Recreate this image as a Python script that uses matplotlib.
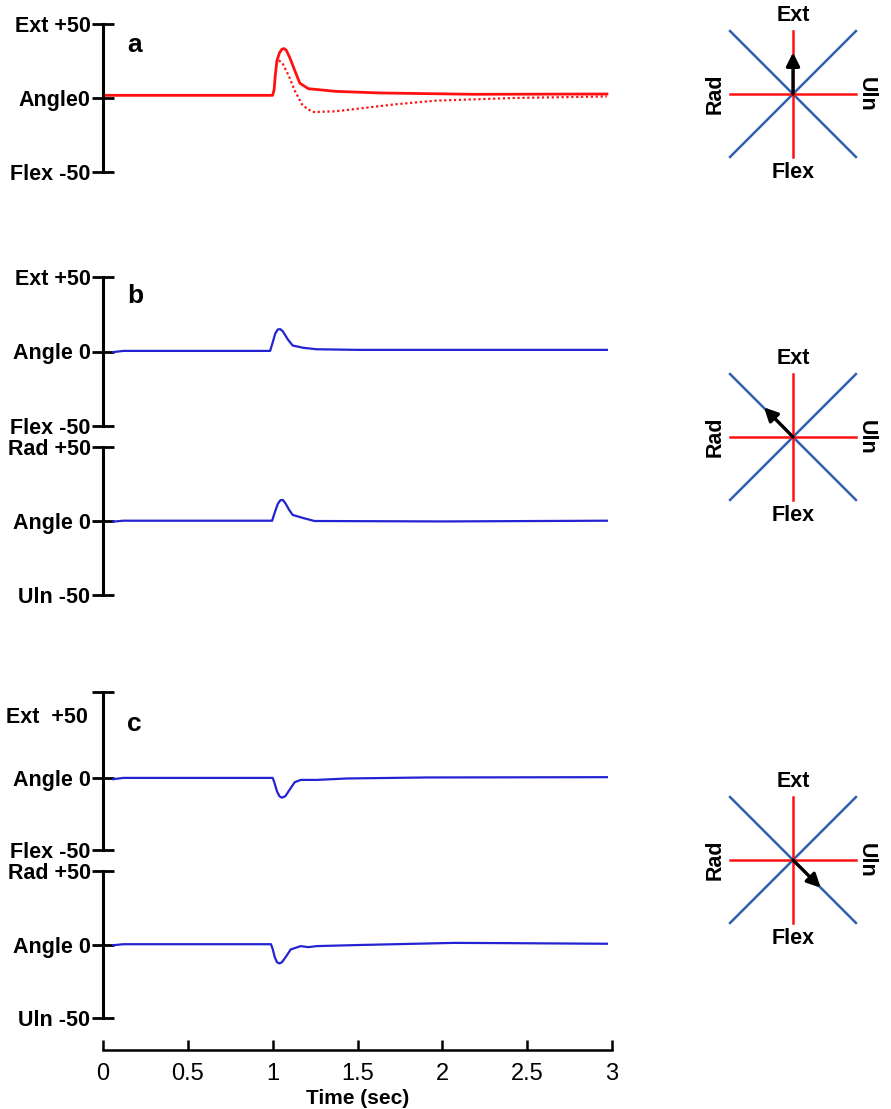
import matplotlib.pyplot as plt
import numpy as np

plt.rcParams['font.family'] = ['Liberation Sans', 'DejaVu Sans']

# Data: time (s) and wrist angle (deg)
t_a = [0.01, 1.0, 1.009, 1.015, 1.025, 1.04, 1.055, 1.067, 1.08, 1.10, 1.13, 1.16, 1.21, 1.37, 1.63, 2.19, 2.97]
ang_a = [1.8, 1.8, 6, 15, 25, 30.5, 33, 33.4, 32.3, 27.5, 18.7, 10, 6.3, 4.5, 3.4, 2.5, 2.7]
t_a_dot = [1.037, 1.06, 1.095, 1.13, 1.176, 1.235, 1.37, 1.72, 1.96, 2.42, 2.97]
ang_a_dot = [25.5, 23, 15, 5, -5, -9.5, -9, -4.3, -1.8, 0, 1.1]

t_b1 = [0.06, 0.12, 0.985, 1.0, 1.015, 1.03, 1.045, 1.06, 1.09, 1.118, 1.18, 1.258, 1.5, 2.0, 2.97]
ang_b1 = [-0.4, 0.4, 0.4, 6, 12, 14.8, 15.0, 13.5, 8, 4, 2.5, 1.5, 1.1, 1.1, 1.1]
t_b2 = [0.06, 0.12, 0.997, 1.01, 1.03, 1.045, 1.06, 1.075, 1.10, 1.118, 1.18, 1.246, 2.0, 2.97]
ang_b2 = [-0.4, 0.2, 0.2, 5, 11.5, 14, 14.2, 12, 7, 4.1, 2, 0, -0.3, 0.2]

t_c1 = [0.06, 0.12, 1.0, 1.01, 1.025, 1.04, 1.055, 1.075, 1.10, 1.13, 1.165, 1.258, 1.44, 1.91, 2.97]
ang_c1 = [-0.7, 0.2, 0.2, -3, -9, -12.6, -13.6, -12.5, -8, -2.8, -1.2, -1.2, -0.2, 0.5, 0.7]
t_c2 = [0.06, 0.12, 0.99, 1.0, 1.012, 1.025, 1.04, 1.055, 1.08, 1.106, 1.165, 1.21, 1.258, 1.49, 2.07, 2.42, 2.97]
ang_c2 = [-0.5, 0.2, 0.2, -3, -8.5, -12, -12.9, -12, -8, -3.4, -1.1, -1.8, -1.1, -0.4, 1.1, 0.9, 0.5]

ext_flex_labels = ['Flex -50', 'Angle 0', 'Ext +50']
rad_uln_labels = ['Uln -50', 'Angle 0', 'Rad +50']
time_ticks = [0, 0.5, 1, 1.5, 2, 2.5, 3]
time_labels = ['0', '0.5', '1', '1.5', '2', '2.5', '3']

# arrow direction in each wrist diagram
arrow_dx = [0.0, -0.46, 0.44]
arrow_dy = [0.66, 0.47, -0.44]

W, H = 891, 1109
fig = plt.figure(figsize=(W / 100, H / 100), dpi=100)

X0, X1 = 103, 612
RED = '#ff1111'
TRACE_BLUE = '#2323d2'
DIAG_BLUE = '#2f5fae'


def trace_axes(top_px, bottom_px, ylim=(-50, 50)):
    ax = fig.add_axes([X0 / W, 1 - bottom_px / H, (X1 - X0) / W, (bottom_px - top_px) / H])
    ax.set_xlim(0, 3)
    ax.set_ylim(*ylim)
    for s in ['top', 'right', 'bottom']:
        ax.spines[s].set_visible(False)
    ax.spines['left'].set_linewidth(2.2)
    ax.set_xticks([])
    ax.tick_params(axis='y', direction='inout', length=16, width=2, pad=1)
    ax.patch.set_alpha(0)
    return ax


def style_labels(ax):
    for lab in ax.get_yticklabels():
        lab.set_fontweight('bold')
        lab.set_fontsize(15.5)


# panel a
ax = trace_axes(24, 172)
ax.set_yticks([-50, 0, 50], ['Flex -50', 'Angle0', 'Ext +50'])
style_labels(ax)
ax.plot(t_a, ang_a, color=RED, lw=2.0)
ax.plot(t_a_dot, ang_a_dot, color=RED, lw=1.6, ls=(0, (1, 1.2)))
ax.text(0.048, 0.86, 'a', transform=ax.transAxes, fontsize=19, fontweight='bold', va='center')

# panel b
ax = trace_axes(277, 426)
ax.set_yticks([-50, 0, 50], ext_flex_labels)
style_labels(ax)
ax.plot(t_b1, ang_b1, color=TRACE_BLUE, lw=1.6)
ax.text(0.048, 0.87, 'b', transform=ax.transAxes, fontsize=19, fontweight='bold', va='center')

ax = trace_axes(447, 595)
ax.set_yticks([-50, 0, 50], rad_uln_labels)
style_labels(ax)
ax.plot(t_b2, ang_b2, color=TRACE_BLUE, lw=1.6)

# panel c
ax = trace_axes(692, 850, ylim=(-50, 60))
ax.set_yticks([-50, 0, 60], ['Flex -50', 'Angle 0', ''])
style_labels(ax)
ax.text(-0.03, 42, 'Ext  +50', transform=ax.get_yaxis_transform(), ha='right', va='center',
        fontsize=15.5, fontweight='bold')
ax.plot(t_c1, ang_c1, color=TRACE_BLUE, lw=1.6)
ax.text(0.048, 0.80, 'c', transform=ax.transAxes, fontsize=19, fontweight='bold', va='center')

ax = trace_axes(871, 1018)
ax.set_yticks([-50, 0, 50], rad_uln_labels)
style_labels(ax)
ax.plot(t_c2, ang_c2, color=TRACE_BLUE, lw=1.6)

# time axis
axt = fig.add_axes([X0 / W, 1 - 1050 / H, (X1 - X0) / W, 0.01])
axt.set_xlim(0, 3)
axt.set_yticks([])
for s in ['top', 'right', 'left']:
    axt.spines[s].set_visible(False)
axt.spines['bottom'].set_linewidth(1.8)
axt.set_xticks(time_ticks, time_labels)
axt.tick_params(axis='x', direction='in', length=7, width=1.8, labelsize=17, pad=9)
axt.set_xlabel('Time (sec)', fontsize=15, fontweight='bold', labelpad=3)
axt.patch.set_alpha(0)

# wrist direction diagrams
centers = [94, 437, 860]
for cy, dx, dy in zip(centers, arrow_dx, arrow_dy):
    half = 90
    d = fig.add_axes([(793 - half) / W, 1 - (cy + half) / H, 2 * half / W, 2 * half / H])
    d.set_xlim(-1.43, 1.43)
    d.set_ylim(-1.43, 1.43)
    d.axis('off')
    d.plot([-1, 1], [-1, 1], color=DIAG_BLUE, lw=1.8)
    d.plot([-1, 1], [1, -1], color=DIAG_BLUE, lw=1.8)
    d.plot([-1, 1], [0, 0], color=RED, lw=1.8)
    d.plot([0, 0], [-1, 1], color=RED, lw=1.8)
    d.annotate('', xy=(dx, dy), xytext=(0, 0),
               arrowprops=dict(arrowstyle='-|>', color='black', lw=2.4, mutation_scale=20,
                               shrinkA=0, shrinkB=0))
    kw = dict(fontsize=15.5, fontweight='bold', ha='center', va='center')
    d.text(0, 1.24, 'Ext', **kw)
    d.text(0, -1.24, 'Flex', **kw)
    d.text(-1.24, 0, 'Rad', rotation=90, **kw)
    d.text(1.17, 0, 'Uln', rotation=-90, **kw)

fig.savefig('out.png', dpi=100)
